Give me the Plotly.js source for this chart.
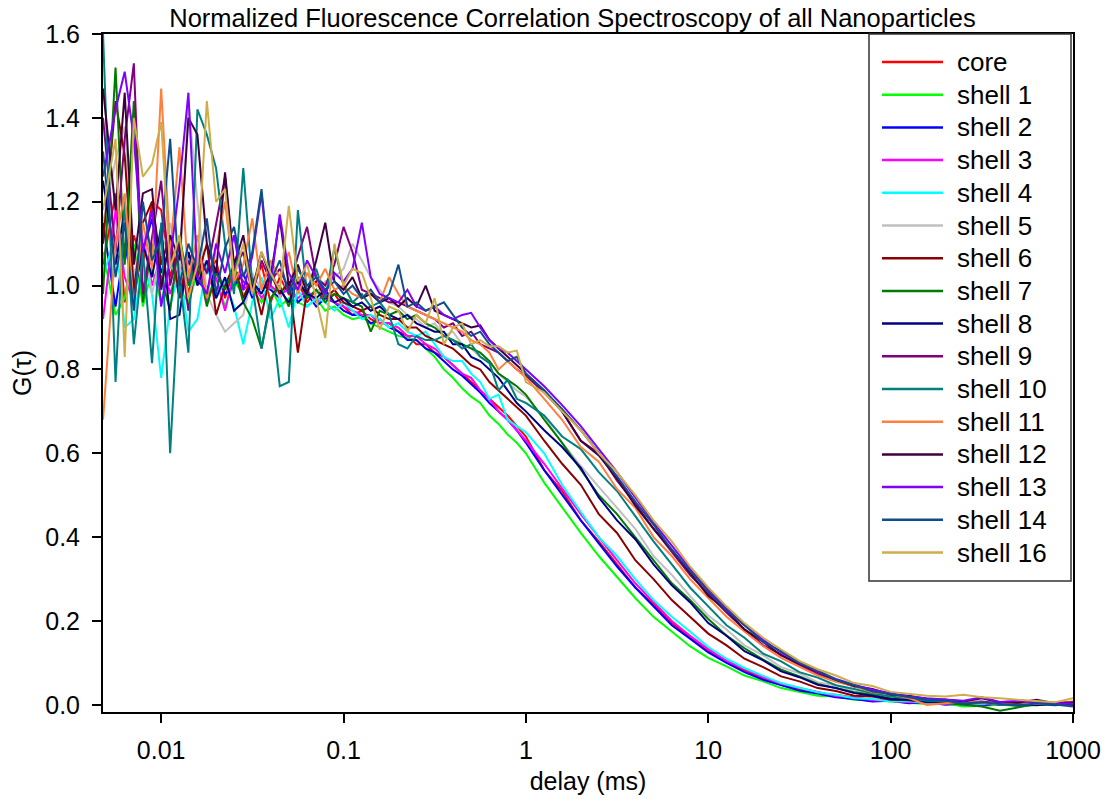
<!DOCTYPE html>
<html><head><meta charset="utf-8">
<script src="https://cdn.plot.ly/plotly-3.0.1.min.js"></script>
<style>html,body{margin:0;padding:0;background:#fff;} #chart{width:1112px;height:799px;}</style>
</head><body><div id="chart"></div>
<script>
// delay times (ms)
const delay = [
 0.0048, 0.00562, 0.00631, 0.00708, 0.00794, 0.00891, 0.01, 0.0112, 0.0126, 0.0141,
 0.0158, 0.0178, 0.02, 0.0224, 0.0251, 0.0282, 0.0316, 0.0355, 0.0398, 0.0447,
 0.0501, 0.0562, 0.0631, 0.0708, 0.0794, 0.0891, 0.1, 0.112, 0.126, 0.141,
 0.158, 0.178, 0.2, 0.224, 0.251, 0.282, 0.316, 0.355, 0.398, 0.447,
 0.501, 0.562, 0.631, 0.708, 0.794, 0.891, 1, 1.26, 1.58, 2,
 2.51, 3.16, 3.98, 5.01, 6.31, 7.94, 10, 12.6, 15.8, 20,
 25.1, 31.6, 39.8, 50.1, 63.1, 79.4, 100, 126, 158, 200,
 251, 316, 398, 501, 631, 794, 1000];

const core = [
 1.05, 1.22, 0.96, 1.12, 1.05, 1.20, 1.18, 1.02, 1.10, 0.98,
 1.08, 1.03, 1.06, 0.97, 1.04, 1.01, 0.99, 1.05, 0.96, 1.02,
 0.98, 1.01, 0.96, 0.99, 0.97, 0.98, 0.95, 0.93, 0.94, 0.92,
 0.91, 0.91, 0.89, 0.88, 0.86, 0.86, 0.84, 0.83, 0.81, 0.79,
 0.77, 0.75, 0.73, 0.71, 0.69, 0.665, 0.64, 0.56, 0.51, 0.44,
 0.39, 0.335, 0.28, 0.24, 0.195, 0.16, 0.128, 0.102, 0.082, 0.062,
 0.048, 0.037, 0.028, 0.024, 0.017, 0.012, 0.009, 0.008, 0.004, 0.006,
 0.002, 0.004, 0.001, 0.003, 0.002, 0.005, 0.003];

const shell1 = [
 1.08, 0.93, 0.97, 1.10, 0.95, 1.04, 0.96, 1.06, 0.99, 0.96,
 1.03, 0.97, 1.02, 0.95, 1.01, 0.98, 0.99, 0.96, 1.00, 0.95,
 0.97, 0.96, 0.95, 0.97, 0.94, 0.95, 0.93, 0.92, 0.925, 0.91,
 0.90, 0.89, 0.88, 0.875, 0.87, 0.85, 0.83, 0.80, 0.78, 0.755,
 0.735, 0.72, 0.69, 0.67, 0.645, 0.625, 0.60, 0.53, 0.47, 0.41,
 0.355, 0.305, 0.255, 0.21, 0.175, 0.14, 0.112, 0.092, 0.07, 0.056,
 0.04, 0.031, 0.022, 0.02, 0.012, 0.011, 0.008, 0.006, 0.002, 0.004,
 -0.004, -0.002, 0.0, -0.003, 0.0, 0.002, 0.001];

const shell2 = [
 1.15, 0.95, 1.10, 0.99, 1.08, 1.16, 1.03, 1.09, 0.97, 1.06,
 1.01, 0.99, 1.04, 0.98, 1.00, 1.03, 0.97, 1.00, 0.99, 0.97,
 1.01, 0.96, 0.98, 0.95, 0.97, 0.96, 0.94, 0.93, 0.93, 0.91,
 0.92, 0.90, 0.89, 0.87, 0.87, 0.85, 0.84, 0.82, 0.80, 0.785,
 0.765, 0.745, 0.72, 0.70, 0.68, 0.655, 0.625, 0.56, 0.50, 0.44,
 0.385, 0.33, 0.28, 0.235, 0.19, 0.158, 0.125, 0.10, 0.078, 0.06,
 0.047, 0.034, 0.027, 0.018, 0.014, 0.008, 0.01, 0.004, 0.006, 0.0,
 0.003, -0.002, 0.004, 0.001, 0.003, -0.001, 0.002];

const shell3 = [
 0.92, 1.18, 1.02, 0.96, 1.12, 1.00, 1.07, 0.98, 1.05, 1.01,
 1.08, 0.96, 1.02, 0.94, 1.03, 0.99, 1.01, 0.97, 1.00, 0.98,
 0.99, 0.97, 0.99, 0.96, 0.98, 0.96, 0.95, 0.94, 0.93, 0.93,
 0.91, 0.91, 0.90, 0.88, 0.88, 0.86, 0.85, 0.83, 0.81, 0.79,
 0.78, 0.75, 0.73, 0.70, 0.68, 0.655, 0.63, 0.575, 0.515, 0.455,
 0.40, 0.345, 0.29, 0.245, 0.20, 0.165, 0.133, 0.105, 0.085, 0.066,
 0.05, 0.04, 0.03, 0.021, 0.018, 0.011, 0.009, 0.006, 0.007, 0.002,
 0.004, 0.001, 0.003, 0.0, 0.004, 0.002, 0.003];

const shell4 = [
 1.02, 1.12, 0.90, 0.92, 1.06, 0.98, 0.78, 0.95, 1.04, 0.89,
 0.92, 1.05, 0.97, 1.01, 0.95, 0.86, 0.96, 1.02, 0.92, 0.97,
 0.90, 0.99, 0.95, 0.97, 0.96, 0.94, 0.96, 0.94, 0.92, 0.93,
 0.92, 0.90, 0.91, 0.89, 0.88, 0.89, 0.86, 0.83, 0.82, 0.82,
 0.79, 0.77, 0.73, 0.74, 0.68, 0.665, 0.65, 0.60, 0.525, 0.46,
 0.40, 0.355, 0.30, 0.25, 0.21, 0.175, 0.138, 0.11, 0.088, 0.069,
 0.052, 0.041, 0.03, 0.024, 0.016, 0.014, 0.008, 0.009, 0.004, 0.005,
 0.001, 0.003, 0.0, 0.004, 0.002, 0.003, 0.005];

const shell5 = [
 1.15, 1.30, 1.38, 1.02, 1.12, 0.98, 1.08, 1.15, 1.02, 1.44,
 1.20, 0.98, 0.93, 0.89, 0.91, 0.93, 1.03, 0.99, 1.05, 0.97,
 1.02, 0.99, 1.03, 0.98, 1.01, 1.02, 1.04, 1.10, 1.06, 1.02,
 0.99, 0.96, 0.95, 0.93, 0.92, 0.90, 0.91, 0.88, 0.89, 0.86,
 0.85, 0.83, 0.82, 0.79, 0.77, 0.75, 0.735, 0.685, 0.625, 0.57,
 0.52, 0.47, 0.42, 0.355, 0.31, 0.26, 0.213, 0.18, 0.142, 0.118,
 0.09, 0.075, 0.054, 0.046, 0.032, 0.027, 0.018, 0.016, 0.01, 0.009,
 0.004, 0.006, 0.002, 0.004, 0.001, 0.003, 0.002];

const shell6 = [
 1.10, 1.44, 1.31, 0.99, 1.15, 1.20, 1.05, 1.12, 0.97, 1.08,
 1.02, 1.10, 0.93, 1.00, 1.05, 0.97, 1.02, 0.93, 1.03, 0.98,
 1.01, 0.84, 0.99, 1.01, 0.97, 0.99, 0.96, 0.95, 0.94, 0.95,
 0.93, 0.92, 0.92, 0.90, 0.90, 0.88, 0.87, 0.86, 0.85, 0.83,
 0.81, 0.80, 0.77, 0.75, 0.73, 0.71, 0.69, 0.63, 0.575, 0.525,
 0.455, 0.41, 0.345, 0.30, 0.25, 0.21, 0.17, 0.142, 0.11, 0.09,
 0.068, 0.056, 0.04, 0.033, 0.022, 0.02, 0.012, 0.011, 0.006, 0.007,
 0.002, 0.005, 0.001, 0.003, 0.0, 0.004, 0.002];

const shell7 = [
 0.98, 1.52, 1.05, 1.44, 0.96, 1.10, 1.02, 0.94, 1.12, 1.00,
 1.06, 0.95, 1.03, 0.99, 1.04, 0.96, 0.92, 0.85, 0.97, 1.00,
 0.95, 1.02, 0.97, 0.99, 0.96, 0.98, 0.97, 0.96, 0.95, 0.89,
 0.94, 0.93, 0.94, 0.92, 0.93, 0.91, 0.90, 0.88, 0.87, 0.86,
 0.85, 0.84, 0.82, 0.79, 0.775, 0.76, 0.74, 0.68, 0.625, 0.56,
 0.50, 0.455, 0.40, 0.345, 0.29, 0.25, 0.205, 0.165, 0.135, 0.108,
 0.084, 0.068, 0.05, 0.04, 0.03, 0.024, 0.015, 0.012, 0.008, 0.004,
 0.0, -0.004, -0.014, -0.006, 0.002, 0.001, 0.003];

const shell8 = [
 1.25, 1.05, 1.18, 0.97, 1.10, 1.02, 1.14, 0.92, 0.93, 1.08,
 1.00, 1.06, 0.97, 1.02, 0.94, 0.96, 1.01, 0.98, 1.03, 0.99,
 0.96, 1.01, 0.98, 0.97, 0.99, 0.96, 0.97, 0.95, 0.96, 0.94,
 0.95, 0.93, 0.92, 0.93, 0.91, 0.90, 0.89, 0.89, 0.86, 0.86,
 0.83, 0.82, 0.80, 0.78, 0.75, 0.72, 0.70, 0.655, 0.615, 0.565,
 0.495, 0.44, 0.395, 0.335, 0.285, 0.245, 0.195, 0.165, 0.128, 0.106,
 0.08, 0.066, 0.048, 0.04, 0.028, 0.022, 0.014, 0.012, 0.007, 0.008,
 0.003, 0.005, 0.001, 0.004, -0.001, 0.003, 0.0];

const shell9 = [
 1.40, 1.08, 1.35, 1.53, 0.98, 1.12, 1.25, 1.00, 1.10, 0.94,
 1.08, 1.03, 1.15, 1.26, 1.04, 1.08, 0.98, 1.06, 1.01, 1.04,
 0.99, 1.07, 1.14, 1.02, 1.00, 1.05, 1.14, 1.08, 0.99, 0.98,
 0.97, 0.96, 0.96, 0.95, 0.94, 0.93, 0.92, 0.90, 0.91, 0.88,
 0.89, 0.86, 0.85, 0.84, 0.82, 0.80, 0.785, 0.745, 0.70, 0.63,
 0.60, 0.535, 0.48, 0.42, 0.365, 0.31, 0.265, 0.22, 0.18, 0.142,
 0.12, 0.095, 0.073, 0.058, 0.044, 0.035, 0.024, 0.02, 0.013, 0.012,
 0.006, 0.008, 0.004, 0.006, 0.002, 0.004, 0.003];

const shell10 = [
 1.60, 0.77, 1.20, 0.86, 1.08, 0.815, 1.15, 0.60, 1.02, 0.84,
 1.42, 1.36, 1.28, 1.10, 0.98, 1.28, 1.00, 0.85, 0.96, 0.76,
 0.77, 1.18, 0.98, 1.04, 0.97, 1.09, 1.00, 0.96, 0.98, 0.95,
 0.96, 0.93, 0.86, 0.85, 0.88, 0.87, 0.87, 0.88, 0.87, 0.85,
 0.86, 0.83, 0.815, 0.75, 0.775, 0.73, 0.72, 0.69, 0.64, 0.61,
 0.555, 0.51, 0.45, 0.39, 0.335, 0.28, 0.235, 0.19, 0.16, 0.122,
 0.104, 0.078, 0.065, 0.047, 0.038, 0.028, 0.02, 0.016, 0.01, 0.009,
 0.003, 0.006, 0.0, 0.004, 0.002, 0.003, 0.004];

const shell11 = [
 0.68, 1.10, 1.22, 0.95, 1.15, 1.04, 1.47, 1.08, 1.33, 1.02,
 1.12, 0.97, 1.09, 1.20, 1.01, 1.05, 1.16, 0.99, 1.06, 1.02,
 1.08, 0.98, 1.03, 1.00, 1.04, 0.99, 1.00, 0.98, 0.97, 0.99,
 0.96, 1.02, 0.98, 0.95, 0.94, 0.93, 0.92, 0.91, 0.90, 0.89,
 0.87, 0.86, 0.84, 0.80, 0.82, 0.80, 0.78, 0.73, 0.68, 0.615,
 0.58, 0.515, 0.47, 0.40, 0.355, 0.30, 0.255, 0.21, 0.175, 0.14,
 0.112, 0.092, 0.07, 0.055, 0.045, 0.03, 0.026, 0.016, 0.0, 0.004,
 0.008, 0.005, 0.002, 0.006, 0.003, 0.005, 0.008];

const shell12 = [
 1.47, 1.18, 1.46, 1.05, 1.22, 1.23, 0.99, 1.12, 1.06, 1.40,
 1.36, 1.10, 1.03, 1.27, 1.05, 1.12, 0.99, 1.08, 1.02, 1.16,
 1.00, 1.05, 0.98, 1.06, 1.15, 1.01, 0.99, 1.02, 0.97, 0.98,
 0.96, 0.97, 0.95, 0.97, 0.95, 1.00, 0.94, 0.93, 0.92, 0.91,
 0.90, 0.905, 0.87, 0.85, 0.83, 0.81, 0.79, 0.75, 0.70, 0.63,
 0.595, 0.54, 0.475, 0.42, 0.37, 0.315, 0.26, 0.225, 0.18, 0.15,
 0.118, 0.098, 0.078, 0.06, 0.045, 0.038, 0.025, 0.022, 0.014, 0.012,
 0.008, 0.016, 0.006, 0.005, 0.012, 0.004, 0.006];

const shell13 = [
 1.26, 1.42, 1.51, 1.35, 1.08, 1.18, 0.95, 1.06, 1.24, 1.46,
 1.02, 0.98, 1.10, 1.03, 1.12, 0.99, 1.07, 1.22, 1.00, 1.17,
 1.03, 0.99, 1.06, 1.02, 0.98, 1.03, 1.01, 1.04, 1.15, 1.02,
 0.98, 0.97, 0.96, 0.99, 0.95, 0.94, 0.95, 0.93, 0.92, 0.93,
 0.935, 0.90, 0.87, 0.85, 0.84, 0.82, 0.80, 0.76, 0.715, 0.665,
 0.61, 0.555, 0.495, 0.435, 0.38, 0.325, 0.275, 0.23, 0.19, 0.155,
 0.125, 0.10, 0.08, 0.062, 0.048, 0.036, 0.028, 0.02, 0.016, 0.013,
 0.01, 0.018, 0.007, 0.01, 0.005, 0.004, 0.003];

const shell14 = [
 1.32, 1.02, 1.15, 0.94, 1.20, 1.06, 1.11, 1.35, 1.00, 1.10,
 1.04, 1.16, 0.98, 1.09, 1.14, 1.02, 1.08, 1.23, 1.01, 1.06,
 0.98, 1.04, 1.00, 1.02, 0.99, 1.01, 0.98, 1.00, 0.97, 0.99,
 0.96, 0.98, 1.05, 0.95, 0.96, 0.94, 0.95, 0.96, 0.93, 0.90,
 0.88, 0.89, 0.86, 0.84, 0.82, 0.83, 0.79, 0.75, 0.705, 0.655,
 0.60, 0.545, 0.485, 0.43, 0.37, 0.32, 0.27, 0.225, 0.19, 0.15,
 0.128, 0.10, 0.082, 0.06, 0.047, 0.032, 0.026, 0.018, 0.012, 0.01,
 0.003, 0.006, 0.002, -0.002, 0.004, 0.001, -0.004];

const shell16 = [
 1.18, 1.35, 0.83, 1.40, 1.26, 1.29, 1.39, 1.04, 1.12, 0.97,
 1.05, 1.44, 1.20, 1.23, 1.02, 1.10, 0.98, 1.08, 1.03, 0.99,
 1.19, 1.01, 1.05, 0.97, 0.875, 1.10, 1.00, 1.04, 1.03, 0.97,
 0.895, 0.95, 0.94, 0.89, 0.93, 0.91, 0.97, 0.86, 0.90, 0.91,
 0.86, 0.87, 0.855, 0.855, 0.84, 0.845, 0.77, 0.745, 0.70, 0.655,
 0.60, 0.555, 0.50, 0.44, 0.39, 0.33, 0.28, 0.235, 0.195, 0.16,
 0.132, 0.105, 0.085, 0.07, 0.052, 0.045, 0.031, 0.026, 0.022, 0.02,
 0.024, 0.018, 0.016, 0.012, 0.009, 0.006, 0.016];

const seriesNames = ['core','shell 1','shell 2','shell 3','shell 4','shell 5','shell 6','shell 7',
  'shell 8','shell 9','shell 10','shell 11','shell 12','shell 13','shell 14','shell 16'];
const seriesValues = [core, shell1, shell2, shell3, shell4, shell5, shell6, shell7,
  shell8, shell9, shell10, shell11, shell12, shell13, shell14, shell16];
const seriesColors = ['#ff0000','#00ff00','#0000ff','#ff00ff','#00ffff','#c0c0c0','#8b0000','#007a00',
  '#000080','#800080','#008080','#ff7f3f','#400040','#8000ff','#104e8b','#cfad4a'];

const xTickVals = [0.01, 0.1, 1, 10, 100, 1000];
const xTickText = ['0.01', '0.1', '1', '10', '100', '1000'];
const yTickVals = [0, 0.2, 0.4, 0.6, 0.8, 1.0, 1.2, 1.4, 1.6];
const yTickText = ['0.0', '0.2', '0.4', '0.6', '0.8', '1.0', '1.2', '1.4', '1.6'];

const FONT = 'Liberation Sans, Arial, sans-serif';
const W = 1112, H = 799;
const M = {l: 103, r: 39, t: 34, b: 87};
const plotW = W - M.l - M.r, plotH = H - M.t - M.b;
// pixel -> paper helpers (for the legend box)
const px = v => (v - M.l) / plotW;
const py = v => 1 - (v - M.t) / plotH;

const traces = seriesNames.map((n, i) => ({
  x: delay, y: seriesValues[i], type: 'scatter', mode: 'lines', name: n,
  line: {color: seriesColors[i], width: 2}
}));

// Legend box (drawn with shapes + annotations to match the compact spacing)
const LEG = {left: 869, right: 1071, top: 34, bottom: 581, first: 62, step: 32.7,
  lineX0: 882, lineX1: 943, textX: 955};
const shapes = [{type: 'rect', xref: 'paper', yref: 'paper', layer: 'above',
  x0: px(LEG.left), x1: px(LEG.right), y0: py(LEG.bottom), y1: py(LEG.top),
  fillcolor: 'white', line: {color: '#333333', width: 1.5}}];
const annotations = [];
seriesNames.forEach((n, i) => {
  const yc = LEG.first + i * LEG.step;
  shapes.push({type: 'line', xref: 'paper', yref: 'paper', layer: 'above',
    x0: px(LEG.lineX0), x1: px(LEG.lineX1), y0: py(yc), y1: py(yc),
    line: {color: seriesColors[i], width: 2.5}});
  annotations.push({xref: 'paper', yref: 'paper', x: px(LEG.textX), y: py(yc),
    xanchor: 'left', yanchor: 'middle', showarrow: false, text: n,
    font: {family: FONT, size: 26, color: 'black'}});
});

const layout = {
  width: W, height: H,
  margin: {l: M.l, r: M.r, t: M.t, b: M.b, pad: 0},
  paper_bgcolor: 'white', plot_bgcolor: 'white',
  font: {family: FONT, size: 25, color: 'black'},
  title: {text: 'Normalized Fluorescence Correlation Spectroscopy of all Nanoparticles',
    font: {family: FONT, size: 25.5, color: 'black'},
    x: 0.5148, xanchor: 'center', xref: 'container', y: 0.978, yanchor: 'middle', yref: 'container'},
  showlegend: false,
  shapes: shapes,
  annotations: annotations,
  xaxis: {type: 'log', range: [-2.319, 3], tickmode: 'array', tickvals: xTickVals, ticktext: xTickText,
    ticks: 'outside', ticklen: 9, tickwidth: 2, tickcolor: 'black', ticklabelstandoff: 6,
    showline: true, linewidth: 2, linecolor: 'black', mirror: true,
    showgrid: false, zeroline: false, tickfont: {family: FONT, size: 25, color: 'black'},
    title: {text: 'delay (ms)', standoff: 9, font: {family: FONT, size: 25, color: 'black'}}},
  yaxis: {range: [-0.017, 1.6], tickmode: 'array', tickvals: yTickVals, ticktext: yTickText,
    ticks: 'outside', ticklen: 9, tickwidth: 2, tickcolor: 'black', ticklabelstandoff: 7,
    showline: true, linewidth: 2, linecolor: 'black', mirror: true,
    showgrid: false, zeroline: false, tickfont: {family: FONT, size: 25, color: 'black'},
    title: {text: 'G(τ)', standoff: 6, font: {family: FONT, size: 25, color: 'black'}}}
};

Plotly.newPlot('chart', traces, layout, {displayModeBar: false, staticPlot: true});
</script></body></html>
